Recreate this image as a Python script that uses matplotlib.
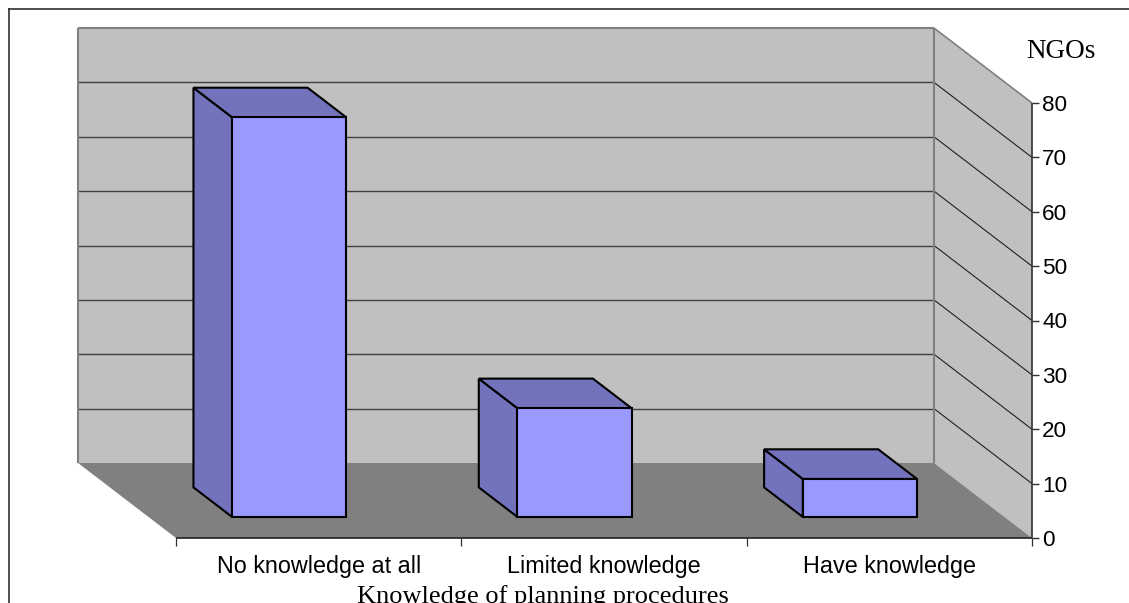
import matplotlib
matplotlib.use("Agg")
import matplotlib.pyplot as plt
from matplotlib.patches import Polygon

W, H = 1129, 603

categories = ["No knowledge at all", "Limited knowledge", "Have knowledge"]
counts = [73.5, 20, 7]
y_ticks = [0, 10, 20, 30, 40, 50, 60, 70, 80]

C_WALL = "#C0C0C0"
C_FLOOR = "#808080"
C_FRONT = "#9999FF"
C_SIDE = "#7373BD"

# chart depth, in data units of the front plane
DX = 98 / (856 / 3)
DY = 75 / (435 / 80)
BAR_W = 0.40
BAR_SHIFT = -0.007
BAR_D0, BAR_D1 = 0.28, 0.675

fig = plt.figure(figsize=(W / 100, H / 100), dpi=100)

# front plane of the box: x in categories, y in NGO counts
ax = fig.add_axes([176 / W, 1 - 538 / H, 856 / W, 435 / H])
ax.set_xlim(0, 3)
ax.set_ylim(0, 80)
ax.axis("off")


def proj(x, y, d):
    # d is the distance from the front plane, 0 to 1
    return (x - DX * d, y + DY * d)


def poly(pts, **kw):
    ax.add_patch(Polygon(pts, closed=True, clip_on=False, **kw))


def line(xs, ys, **kw):
    ax.plot(xs, ys, clip_on=False, solid_capstyle="butt", **kw)


# walls and floor
x0, x1, top = 0, 3, y_ticks[-1]
poly([(x0 - DX, DY), (x1 - DX, DY), (x1 - DX, top + DY), (x0 - DX, top + DY)],
     fc=C_WALL, ec="none", zorder=1)
poly([(x1 - DX, DY), (x1, 0), (x1, top), (x1 - DX, top + DY)],
     fc=C_WALL, ec="none", zorder=1)
poly([(x0, 0), (x1, 0), (x1 - DX, DY), (x0 - DX, DY)],
     fc=C_FLOOR, ec="none", zorder=1)

# gridlines along the back and side walls
for v in y_ticks[1:-1]:
    line([x0 - DX, x1 - DX], [v + DY, v + DY], color="#404040", lw=1.0, zorder=2)
    line([x1 - DX, x1], [v + DY, v], color="#202020", lw=0.8, zorder=2)

# wall edges
edge = dict(color=C_FLOOR, lw=1.5, zorder=3)
line([x0 - DX, x0 - DX], [DY, top + DY], **edge)
line([x0 - DX, x1 - DX], [top + DY, top + DY], **edge)
line([x1 - DX, x1 - DX], [DY, top + DY], **edge)
line([x1 - DX, x1], [top + DY, top], color=C_FLOOR, lw=1.2, zorder=3)

# 3d bars
for i, val in enumerate(counts):
    xl = i + 0.5 - BAR_W / 2 + BAR_SHIFT
    xr = i + 0.5 + BAR_W / 2 + BAR_SHIFT
    fl = proj(xl, 0, BAR_D0)
    fr = proj(xr, 0, BAR_D0)
    tl = proj(xl, val, BAR_D0)
    tr = proj(xr, val, BAR_D0)
    bfl = proj(xl, 0, BAR_D1)
    btl = proj(xl, val, BAR_D1)
    btr = proj(xr, val, BAR_D1)
    style = dict(ec="black", lw=1.5, joinstyle="miter", zorder=5)
    poly([bfl, fl, tl, btl], fc=C_SIDE, **style)
    poly([btl, btr, tr, tl], fc=C_SIDE, **style)
    poly([fl, fr, tr, tl], fc=C_FRONT, **style)

# axis lines, ticks and tick labels
line([x0, x1], [0, 0], color="#202020", lw=1.2, zorder=6)
line([x1, x1], [0, top], color="#303030", lw=1.2, zorder=6)
for x in range(4):
    line([x, x], [0, -1.45], color="#303030", lw=0.9, zorder=6)
for v in y_ticks:
    line([x1, x1 + 0.025], [v, v], color="#303030", lw=1.0, zorder=6)
    ax.text(x1 + 0.036, v, str(v), ha="left", va="center_baseline",
            family="Liberation Sans", fontsize=16.2, color="black", clip_on=False)
for i, c in enumerate(categories):
    ax.text(i + 0.5, -6.44, c, ha="center", va="baseline",
            family="Liberation Sans", fontsize=16.8, color="black")

fig.text(1061 / W, 1 - 58 / H, "NGOs", ha="center", va="baseline",
         family="Liberation Serif", fontsize=19.5, color="black")
fig.text(543 / W, 1 - 602.5 / H, "Knowledge of planning procedures", ha="center", va="baseline",
         family="Liberation Serif", fontsize=19, color="black")

# outer frame, running off the right and bottom of the page
fig.add_artist(plt.Line2D([9 / W, 9 / W], [0, 1 - 9 / H], color="#303030", lw=1.2))
fig.add_artist(plt.Line2D([9 / W, 1], [1 - 9 / H, 1 - 9 / H], color="#303030", lw=1.2))

fig.savefig("out.png", dpi=100)
